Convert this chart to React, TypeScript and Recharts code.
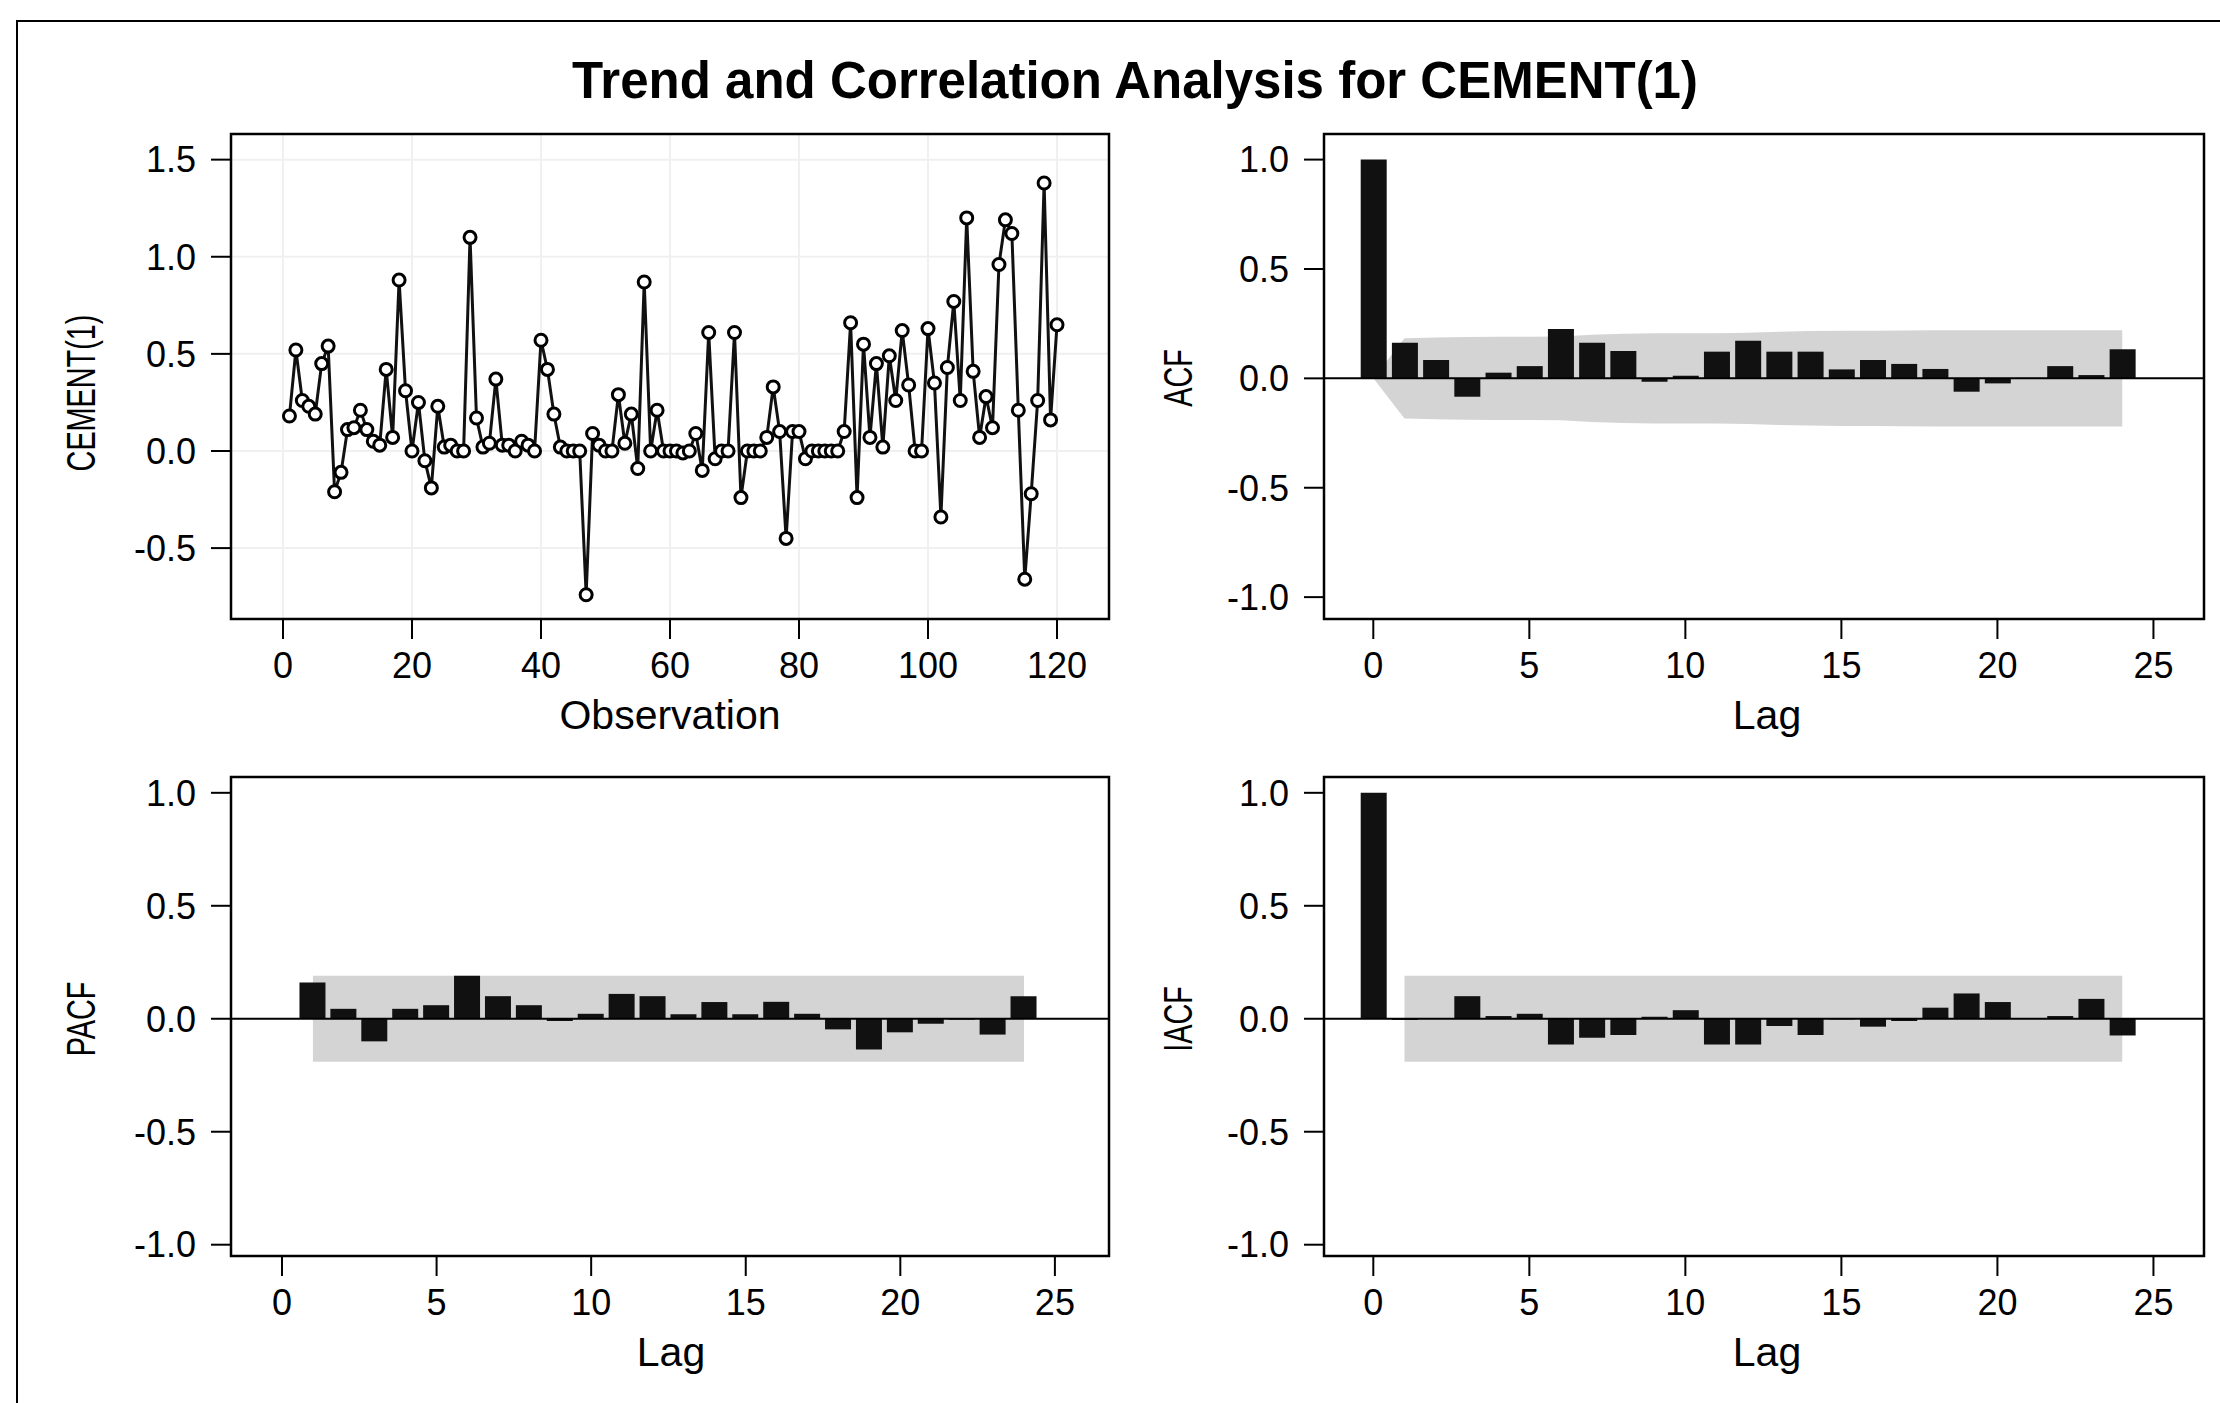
import React from 'react';
import {
  ComposedChart,
  Line,
  Bar,
  Area,
  XAxis,
  YAxis,
  CartesianGrid,
  ReferenceLine,
  ReferenceArea,
} from 'recharts';

const FONT = '"Liberation Sans", Arial, Helvetica, sans-serif';

// ---------- data ----------
const cementValues = [
  0.18, 0.52, 0.26, 0.23, 0.19, 0.45, 0.54, -0.21, -0.11, 0.11,
  0.12, 0.21, 0.11, 0.05, 0.03, 0.42, 0.07, 0.88, 0.31, 0.0,
  0.25, -0.05, -0.19, 0.23, 0.02, 0.03, 0.0, 0.0, 1.1, 0.17,
  0.02, 0.04, 0.37, 0.03, 0.03, 0.0, 0.05, 0.03, 0.0, 0.57,
  0.42, 0.19, 0.02, 0.0, 0.0, 0.0, -0.74, 0.09, 0.03, 0.0,
  0.0, 0.29, 0.04, 0.19, -0.09, 0.87, 0.0, 0.21, 0.0, 0.0,
  0.0, -0.01, 0.0, 0.09, -0.1, 0.61, -0.04, 0.0, 0.0, 0.61,
  -0.24, 0.0, 0.0, 0.0, 0.07, 0.33, 0.1, -0.45, 0.1, 0.1,
  -0.04, 0.0, 0.0, 0.0, 0.0, 0.0, 0.1, 0.66, -0.24, 0.55,
  0.07, 0.45, 0.02, 0.49, 0.26, 0.62, 0.34, 0.0, 0.0, 0.63,
  0.35, -0.34, 0.43, 0.77, 0.26, 1.2, 0.41, 0.07, 0.28, 0.12,
  0.96, 1.19, 1.12, 0.21, -0.66, -0.22, 0.26, 1.38, 0.16, 0.65,
];
const observations = cementValues.map((_, i) => i + 1);

const acfLags = [0, 1, 2, 3, 4, 5, 6, 7, 8, 9, 10, 11, 12, 13, 14, 15, 16, 17, 18, 19, 20, 21, 22, 23, 24];
const acfValues = [
  1.0, 0.163, 0.084, -0.084, 0.026, 0.056, 0.226, 0.163, 0.125, -0.015,
  0.012, 0.122, 0.172, 0.122, 0.122, 0.041, 0.084, 0.066, 0.043, -0.061,
  -0.023, 0.002, 0.056, 0.015, 0.133,
];
const acfBandHalf = [
  0.0, 0.183, 0.187, 0.189, 0.19, 0.19, 0.191, 0.199, 0.204, 0.206,
  0.206, 0.206, 0.209, 0.213, 0.216, 0.218, 0.218, 0.219, 0.22, 0.22,
  0.22, 0.22, 0.22, 0.22, 0.22,
];

const pacfLags = [1, 2, 3, 4, 5, 6, 7, 8, 9, 10, 11, 12, 13, 14, 15, 16, 17, 18, 19, 20, 21, 22, 23, 24];
const pacfValues = [
  0.16, 0.044, -0.1, 0.044, 0.06, 0.19, 0.1, 0.06, -0.01, 0.022,
  0.11, 0.1, 0.02, 0.074, 0.02, 0.075, 0.022, -0.047, -0.136, -0.06,
  -0.022, -0.004, -0.07, 0.1,
];
const pacfBandHalf = 0.19;

const iacfLags = [0, 1, 2, 3, 4, 5, 6, 7, 8, 9, 10, 11, 12, 13, 14, 15, 16, 17, 18, 19, 20, 21, 22, 23, 24];
const iacfValues = [
  1.0, -0.005, 0.003, 0.1, 0.012, 0.022, -0.114, -0.084, -0.072, 0.009,
  0.038, -0.114, -0.114, -0.032, -0.072, -0.003, -0.035, -0.01, 0.049, 0.112,
  0.074, 0.0, 0.012, 0.088, -0.074,
];
const iacfBandHalf = 0.19;

const obsTicks = [0, 20, 40, 60, 80, 100, 120];
const cementTicks = [-0.5, 0.0, 0.5, 1.0, 1.5];
const lagTicks = [0, 5, 10, 15, 20, 25];
const corrTicks = [-1.0, -0.5, 0.0, 0.5, 1.0];

// ---------- helpers ----------
const tickStyle = { fontSize: 36, fill: '#000', fontFamily: FONT };
const tickLineStyle = { stroke: '#000', strokeWidth: 2 };
const fmt = (v: number) => v.toFixed(1);

const Txt = ({ x, y, size, bold, rotate, squeeze = 1, children }: any) => (
  <div
    style={{
      position: 'absolute',
      left: x,
      top: y,
      transform: `translate(-50%, -50%)${rotate ? ' rotate(-90deg)' : ''} scaleX(${squeeze})`,
      fontSize: size,
      fontWeight: bold ? 700 : 400,
      fontFamily: FONT,
      whiteSpace: 'nowrap',
      lineHeight: 1,
      color: '#000',
    }}
  >
    {children}
  </div>
);

const Box = ({ left, top, children }: any) => (
  <div style={{ position: 'absolute', left, top }}>{children}</div>
);

const trendData = observations.map((o, i) => ({ obs: o, value: cementValues[i] }));
const acfData = acfLags.map((l, i) => ({ lag: l, acf: acfValues[i], band: [-acfBandHalf[i], acfBandHalf[i]] }));
const pacfData = pacfLags.map((l, i) => ({ lag: l, pacf: pacfValues[i], band: [-pacfBandHalf, pacfBandHalf] }));
const iacfData = iacfLags.map((l, i) => ({
  lag: l,
  iacf: iacfValues[i],
  band: l === 0 ? null : [-iacfBandHalf, iacfBandHalf],
}));

const TREND_X: [number, number] = [-8.06, 128.06];
const TREND_Y: [number, number] = [-0.865, 1.632];
const ACF_X: [number, number] = [-1.58, 26.62];
const ACF_Y: [number, number] = [-1.1, 1.117];
const PACF_X: [number, number] = [-1.65, 26.75];
const LOW_Y: [number, number] = [-1.05, 1.07];

function CorrChart({ data, dataKey, xDomain, yDomain, width, height, margin, yWidth, xHeight }: any) {
  return (
    <ComposedChart width={width} height={height} data={data} margin={margin}>
      <XAxis
        dataKey="lag"
        type="number"
        domain={xDomain}
        ticks={lagTicks}
        interval={0}
        allowDataOverflow
        axisLine={false}
        tickSize={20}
        tickMargin={13}
        tickLine={tickLineStyle}
        tick={tickStyle}
        height={xHeight}
      />
      <YAxis
        type="number"
        domain={yDomain}
        ticks={corrTicks}
        interval={0}
        allowDataOverflow
        axisLine={false}
        tickSize={20}
        tickMargin={15}
        tickLine={tickLineStyle}
        tick={tickStyle}
        tickFormatter={fmt}
        width={yWidth}
      />
      <Area
        dataKey="band"
        type="linear"
        fill="#d4d4d4"
        fillOpacity={1}
        stroke="none"
        isAnimationActive={false}
        connectNulls={false}
        dot={false}
        activeDot={false}
      />
      <Bar dataKey={dataKey} fill="#111" barSize={26} isAnimationActive={false} />
      <ReferenceLine y={0} stroke="#000" strokeWidth={2} ifOverflow="visible" />
      <ReferenceArea
        x1={xDomain[0]}
        x2={xDomain[1]}
        y1={yDomain[0]}
        y2={yDomain[1]}
        fill="none"
        fillOpacity={0}
        stroke="#000"
        strokeWidth={2.5}
        ifOverflow="visible"
      />
    </ComposedChart>
  );
}

export default function App() {
  return (
    <div
      style={{
        position: 'absolute',
        left: 0,
        top: 0,
        width: 2220,
        height: 1403,
        background: '#fff',
        overflow: 'hidden',
      }}
    >
      {/* outer frame */}
      <div
        style={{
          position: 'absolute',
          left: 16,
          top: 20,
          width: 2230,
          height: 1420,
          borderTop: '2px solid #000',
          borderLeft: '2px solid #000',
        }}
      />

      <Txt x={1135} y={80} size={51} bold>
        Trend and Correlation Analysis for CEMENT(1)
      </Txt>

      {/* Trend plot */}
      <Box left={0} top={100}>
        <ComposedChart width={1130} height={620} data={trendData} margin={{ top: 34, right: 21, bottom: 40, left: 0 }}>
          <CartesianGrid stroke="#f0f0f0" strokeWidth={2} />
          <XAxis
            dataKey="obs"
            type="number"
            domain={TREND_X}
            ticks={obsTicks}
            interval={0}
            allowDataOverflow
            axisLine={false}
            tickSize={20}
            tickMargin={13}
            tickLine={tickLineStyle}
            tick={tickStyle}
            height={61}
          />
          <YAxis
            type="number"
            domain={TREND_Y}
            ticks={cementTicks}
            interval={0}
            allowDataOverflow
            axisLine={false}
            tickSize={20}
            tickMargin={15}
            tickLine={tickLineStyle}
            tick={tickStyle}
            tickFormatter={fmt}
            width={231}
          />
          <ReferenceArea
            x1={TREND_X[0]}
            x2={TREND_X[1]}
            y1={TREND_Y[0]}
            y2={TREND_Y[1]}
            fill="none"
            fillOpacity={0}
            stroke="#000"
            strokeWidth={2.5}
            ifOverflow="visible"
          />
          <Line
            dataKey="value"
            type="linear"
            stroke="#111"
            strokeWidth={3}
            dot={{ r: 6, stroke: '#000', strokeWidth: 3, fill: '#fff' }}
            activeDot={false}
            isAnimationActive={false}
          />
        </ComposedChart>
      </Box>

      {/* ACF */}
      <Box left={1130} top={100}>
        <CorrChart
          data={acfData}
          dataKey="acf"
          xDomain={ACF_X}
          yDomain={ACF_Y}
          width={1090}
          height={620}
          margin={{ top: 34, right: 16, bottom: 40, left: 0 }}
          yWidth={194}
          xHeight={61}
        />
      </Box>

      {/* PACF */}
      <Box left={0} top={740}>
        <CorrChart
          data={pacfData}
          dataKey="pacf"
          xDomain={PACF_X}
          yDomain={LOW_Y}
          width={1130}
          height={620}
          margin={{ top: 37, right: 21, bottom: 40, left: 0 }}
          yWidth={231}
          xHeight={64}
        />
      </Box>

      {/* IACF */}
      <Box left={1130} top={740}>
        <CorrChart
          data={iacfData}
          dataKey="iacf"
          xDomain={ACF_X}
          yDomain={LOW_Y}
          width={1090}
          height={620}
          margin={{ top: 37, right: 16, bottom: 40, left: 0 }}
          yWidth={194}
          xHeight={64}
        />
      </Box>

      {/* axis titles */}
      <Txt x={670} y={715} size={41}>Observation</Txt>
      <Txt x={1767} y={715} size={41}>Lag</Txt>
      <Txt x={671} y={1352} size={41}>Lag</Txt>
      <Txt x={1767} y={1352} size={41}>Lag</Txt>
      <Txt x={81} y={393} size={40} rotate squeeze={0.72}>CEMENT(1)</Txt>
      <Txt x={1178} y={378} size={40} rotate squeeze={0.72}>ACF</Txt>
      <Txt x={81} y={1019} size={40} rotate squeeze={0.72}>PACF</Txt>
      <Txt x={1178} y={1019} size={40} rotate squeeze={0.72}>IACF</Txt>
    </div>
  );
}
